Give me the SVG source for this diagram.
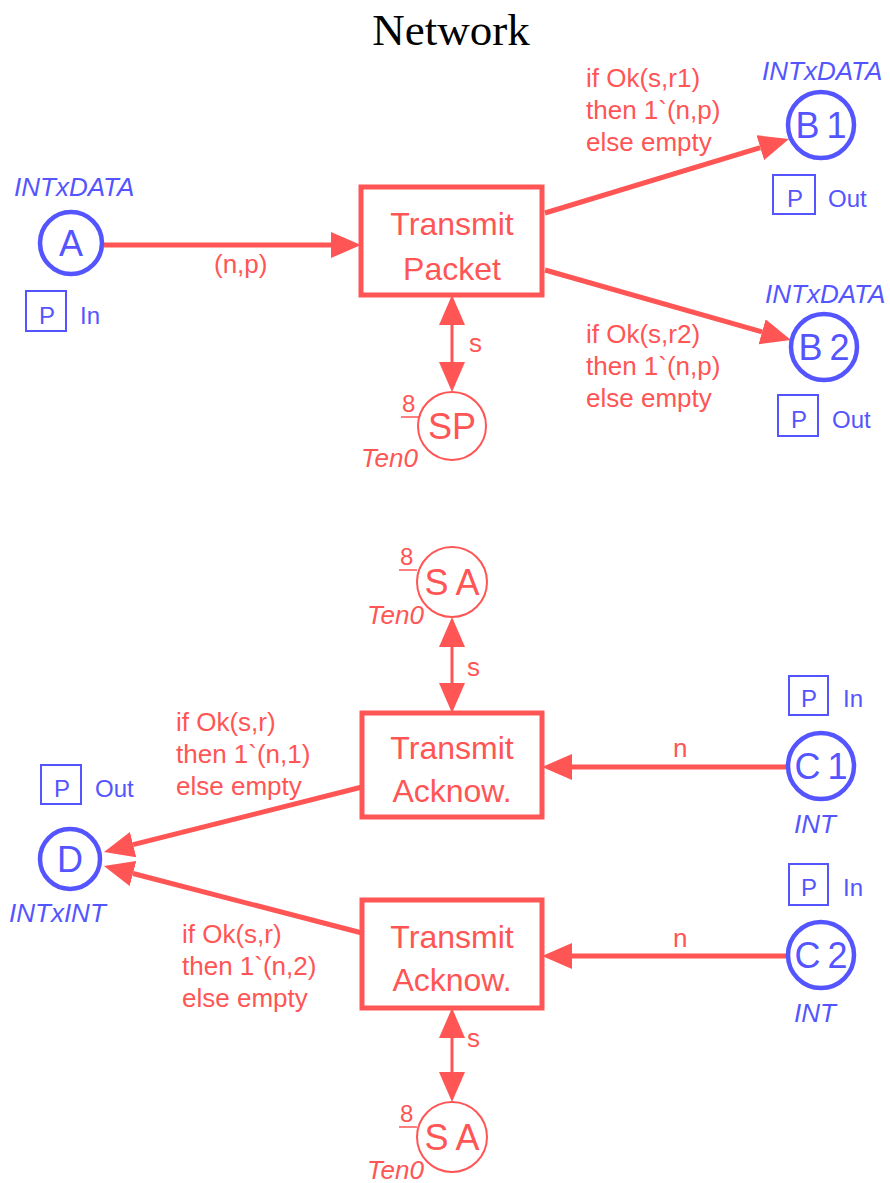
<svg xmlns="http://www.w3.org/2000/svg" width="890" height="1183" viewBox="0 0 890 1183">
<style>
.t{font-family:"Liberation Serif",serif;font-size:45px;fill:#000}
.r{fill:#FF5555;font-family:"Liberation Sans",Arial,sans-serif}
.b{fill:#5555FF;font-family:"Liberation Sans",Arial,sans-serif}
.lbl{font-size:26px}
.typ{font-size:26px;font-style:italic}
.nm{font-size:36px}
.tr{font-size:32px}
.pp{font-size:24px}
.eight{font-size:24px}
.plc{fill:#fff;stroke:#5555FF;stroke-width:4.5}
.fp{fill:#fff;stroke:#FF5555;stroke-width:2}
.trn{fill:#fff;stroke:#FF5555;stroke-width:5}
.pbox{fill:#fff;stroke:#5555FF;stroke-width:2}
.arc{stroke:#FF5555;stroke-width:5;fill:none}
.arc2{stroke:#FF5555;stroke-width:3;fill:none}
.ul{stroke:#FF5555;stroke-width:1.5}
</style>
<defs>
<marker id="ah" viewBox="0 0 30 26" refX="0" refY="13" markerWidth="30" markerHeight="26" markerUnits="userSpaceOnUse" orient="auto-start-reverse">
<path d="M0,0 L30,13 L0,26 z" fill="#FF5555"/>
</marker>
</defs>
<text class="t" x="451" y="45" text-anchor="middle">Network</text>

<g id="connectors">
<line class="arc" x1="104" y1="245" x2="331" y2="245" marker-end="url(#ah)"/>
<line class="arc" x1="545" y1="213" x2="760.3" y2="147.7" marker-end="url(#ah)"/>
<line class="arc" x1="545" y1="270" x2="762.1" y2="331.8" marker-end="url(#ah)"/>
<line class="arc2" x1="452" y1="325" x2="452" y2="362" marker-start="url(#ah)" marker-end="url(#ah)"/>
<line class="arc2" x1="452" y1="647" x2="452" y2="683" marker-start="url(#ah)" marker-end="url(#ah)"/>
<line class="arc2" x1="452" y1="1038" x2="452" y2="1072" marker-start="url(#ah)" marker-end="url(#ah)"/>
<line class="arc" x1="788" y1="767" x2="572" y2="767" marker-end="url(#ah)"/>
<line class="arc" x1="788" y1="956" x2="572" y2="956" marker-end="url(#ah)"/>
<line class="arc" x1="362" y1="787" x2="133.1" y2="844.7" marker-end="url(#ah)"/>
<line class="arc" x1="362" y1="933" x2="133" y2="873.5" marker-end="url(#ah)"/>
<text class="r lbl" x="214" y="273">(n,p)</text>
<text class="r lbl" x="586" y="87">if Ok(s,r1)</text>
<text class="r lbl" x="586" y="119">then 1`(n,p)</text>
<text class="r lbl" x="586" y="151">else empty</text>
<text class="r lbl" x="586" y="343">if Ok(s,r2)</text>
<text class="r lbl" x="586" y="375">then 1`(n,p)</text>
<text class="r lbl" x="586" y="407">else empty</text>
<text class="r lbl" x="469" y="352">s</text>
<text class="r lbl" x="467" y="676">s</text>
<text class="r lbl" x="467" y="1047">s</text>
<text class="r lbl" x="673" y="757">n</text>
<text class="r lbl" x="673" y="947">n</text>
<text class="r lbl" x="176" y="731">if Ok(s,r)</text>
<text class="r lbl" x="176" y="763">then 1`(n,1)</text>
<text class="r lbl" x="176" y="795">else empty</text>
<text class="r lbl" x="182" y="943">if Ok(s,r)</text>
<text class="r lbl" x="182" y="975">then 1`(n,2)</text>
<text class="r lbl" x="182" y="1007">else empty</text>
</g>

<g id="place-A">
<circle class="plc" cx="71" cy="243" r="31"/>
<text class="b nm" x="71" y="256" text-anchor="middle">A</text>
<text class="b typ" x="14" y="196">INTxDATA</text>
<rect class="pbox" x="26" y="291" width="40" height="40"/>
<text class="b pp" x="47" y="324" text-anchor="middle">P</text>
<text class="b pp" x="80" y="324">In</text>
</g>

<g id="trans-TransmitPacket">
<rect class="trn" x="361" y="187" width="181" height="108"/>
<text class="r tr" x="452" y="235" text-anchor="middle">Transmit</text>
<text class="r tr" x="452" y="280" text-anchor="middle">Packet</text>
</g>

<g id="place-SP">
<circle class="fp" cx="452" cy="426" r="34"/>
<text class="r nm" x="452" y="439" text-anchor="middle">SP</text>
<text class="r eight" x="402" y="412">8</text>
<line class="ul" x1="401" y1="417" x2="419" y2="417"/>
<text class="r typ" x="361" y="467">Ten0</text>
</g>

<g id="place-B1">
<circle class="plc" cx="821" cy="125" r="33"/>
<text class="b nm" x="821" y="138" text-anchor="middle">B<tspan dx="7">1</tspan></text>
<text class="b typ" x="762" y="80">INTxDATA</text>
<rect class="pbox" x="773" y="175" width="42" height="39"/>
<text class="b pp" x="795" y="207" text-anchor="middle">P</text>
<text class="b pp" x="828" y="207">Out</text>
</g>

<g id="place-B2">
<circle class="plc" cx="824" cy="347" r="33"/>
<text class="b nm" x="824" y="360" text-anchor="middle">B<tspan dx="7">2</tspan></text>
<text class="b typ" x="765" y="303">INTxDATA</text>
<rect class="pbox" x="778" y="395" width="40" height="41"/>
<text class="b pp" x="799" y="428" text-anchor="middle">P</text>
<text class="b pp" x="832" y="428">Out</text>
</g>

<g id="place-SA1">
<circle class="fp" cx="452" cy="582" r="35"/>
<text class="r nm" x="452" y="595" text-anchor="middle">S<tspan dx="7">A</tspan></text>
<text class="r eight" x="400" y="565">8</text>
<line class="ul" x1="399" y1="570" x2="417" y2="570"/>
<text class="r typ" x="367" y="624">Ten0</text>
</g>

<g id="trans-TransmitAcknow1">
<rect class="trn" x="362" y="713" width="180" height="104"/>
<text class="r tr" x="452" y="759" text-anchor="middle">Transmit</text>
<text class="r tr" x="452" y="802" text-anchor="middle">Acknow.</text>
</g>

<g id="place-C1">
<circle class="plc" cx="821" cy="766" r="33"/>
<text class="b nm" x="821" y="779" text-anchor="middle">C<tspan dx="7">1</tspan></text>
<text class="b typ" x="794" y="833">INT</text>
<rect class="pbox" x="789" y="676" width="39" height="39"/>
<text class="b pp" x="809" y="707" text-anchor="middle">P</text>
<text class="b pp" x="843" y="707">In</text>
</g>

<g id="place-C2">
<circle class="plc" cx="821" cy="955" r="33"/>
<text class="b nm" x="821" y="968" text-anchor="middle">C<tspan dx="7">2</tspan></text>
<text class="b typ" x="794" y="1022">INT</text>
<rect class="pbox" x="789" y="864" width="39" height="41"/>
<text class="b pp" x="809" y="896" text-anchor="middle">P</text>
<text class="b pp" x="843" y="896">In</text>
</g>

<g id="place-D">
<circle class="plc" cx="70" cy="859" r="30"/>
<text class="b nm" x="70" y="872" text-anchor="middle">D</text>
<text class="b typ" x="9" y="922">INTxINT</text>
<rect class="pbox" x="41" y="765" width="40" height="39"/>
<text class="b pp" x="62" y="797" text-anchor="middle">P</text>
<text class="b pp" x="95" y="797">Out</text>
</g>

<g id="trans-TransmitAcknow2">
<rect class="trn" x="362" y="900" width="180" height="108"/>
<text class="r tr" x="452" y="948" text-anchor="middle">Transmit</text>
<text class="r tr" x="452" y="991" text-anchor="middle">Acknow.</text>
</g>

<g id="place-SA2">
<circle class="fp" cx="452" cy="1137" r="35"/>
<text class="r nm" x="452" y="1150" text-anchor="middle">S<tspan dx="7">A</tspan></text>
<text class="r eight" x="400" y="1122">8</text>
<line class="ul" x1="399" y1="1127" x2="417" y2="1127"/>
<text class="r typ" x="367" y="1179">Ten0</text>
</g>
</svg>
